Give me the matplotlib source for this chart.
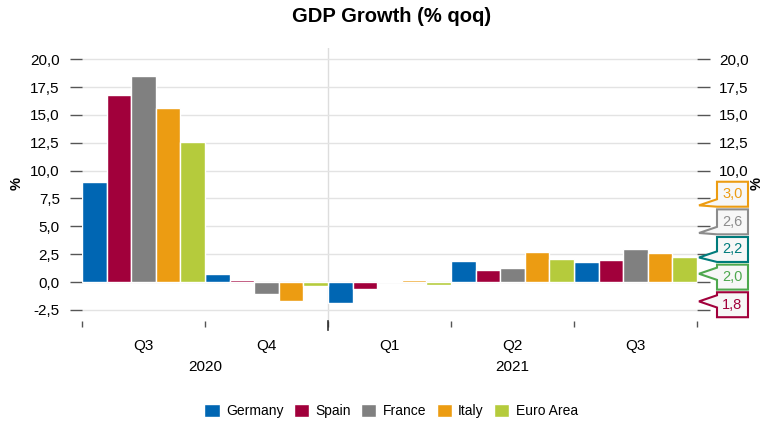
import numpy as np
import matplotlib
matplotlib.use("Agg")
import matplotlib.pyplot as plt
from matplotlib.patches import Polygon
from matplotlib.transforms import blended_transform_factory

plt.rcParams['font.family'] = ['Liberation Sans', 'DejaVu Sans']

# quarterly GDP growth, % qoq
quarters = ["Q3", "Q4", "Q1", "Q2", "Q3"]
years = ["2020", "2021"]
year_span = [(0, 1), (2, 4)]
countries = ["Germany", "Spain", "France", "Italy", "Euro Area"]
germany = [9.0, 0.7, -1.9, 1.9, 1.8]
spain = [16.8, 0.2, -0.6, 1.1, 2.0]
france = [18.5, -1.1, 0.1, 1.3, 3.0]
italy = [15.6, -1.7, 0.2, 2.7, 2.6]
euro_area = [12.6, -0.4, -0.3, 2.1, 2.2]
colors = ["#0066b3", "#a1003b", "#808080", "#ec9c12", "#b5cb3c"]

# latest-value flags on the right axis
flag_values = [3.0, 2.6, 2.2, 2.0, 1.8]
flag_colors = ["#ec9c12", "#8c8c8c", "#007b7b", "#4ea84e", "#a1003b"]

series = [germany, spain, france, italy, euro_area]

fig = plt.figure(figsize=(7.64, 4.22), dpi=100)
ax = fig.add_axes([82 / 764, 1 - 321 / 422, 615 / 764, (321 - 47.5) / 422])

x = np.arange(len(quarters))
w = 0.2
for j, (vals, c, name) in enumerate(zip(series, colors, countries)):
    ax.bar(x + (j - 2) * w, vals, width=w, color=c, edgecolor="white",
           linewidth=1, label=name, zorder=3)

ax.set_xlim(-0.5, len(quarters) - 0.5)
ax.set_ylim(-3.5, 21.05)
yt = np.arange(-2.5, 20.01, 2.5)
ax.set_yticks(yt)
ax.set_yticklabels([f"{v:.1f}".replace(".", ",") for v in yt])
ax.grid(axis="y", color="#e3e3e3", linewidth=1, zorder=0)
ax.tick_params(axis="y", which="both", length=9, width=1, color="#555555",
               labelsize=11, pad=7, left=True, right=True,
               labelleft=True, labelright=True)

for s in ax.spines.values():
    s.set_visible(False)

# category labels, boundary ticks
ax.set_xticks(x)
ax.set_xticklabels(quarters, fontsize=11)
ax.tick_params(axis="x", which="major", length=0, pad=13)
ax.set_xticks(np.arange(-0.5, len(quarters)), minor=True)
ax.tick_params(axis="x", which="minor", length=4, width=1, color="#555555",
               pad=0, direction="out")

trans_x = blended_transform_factory(ax.transData, ax.transAxes)
for yr, (a, b) in zip(years, year_span):
    ax.text((a + b) / 2, -0.168, yr, transform=trans_x, ha="center",
            va="center", fontsize=11)

# year separator
ax.axvline(1.5, color="#dddddd", linewidth=1, zorder=1)
ax.plot([1.5, 1.5], [0, -0.033], transform=trans_x, color="#333333",
        linewidth=1.2, clip_on=False)

# callout flags for the latest quarter
trans_r = blended_transform_factory(ax.transAxes, ax.transData)
step = 2.48
half = 1.12
order = np.argsort(flag_values)[::-1]
mid = np.mean(flag_values) + 0.6
xt, xl, xr = 1 + 2 / 615, 1 + 20 / 615, 1 + 51 / 615
flag_top = mid + step * 2 + half
for rank, k in enumerate(order):
    v = flag_values[k]
    c = mid + step * (2 - rank)
    top, bot = c + half, c - half
    ty = min(max(v, c - 1.0), c + 0.3)
    wt = min(ty + 0.55, top)
    wb = max(ty - 0.55, bot)
    pts = [(xl, top), (xr, top), (xr, bot), (xl, bot), (xl, wb), (xt, ty),
           (xl, wt)]
    ax.add_patch(Polygon(pts, closed=True, transform=trans_r,
                         facecolor="#f7f7f7", edgecolor=flag_colors[k],
                         linewidth=1.5, clip_on=False, zorder=5))
    ax.text((xl + xr) / 2, c, f"{v:.1f}".replace(".", ","), transform=trans_r,
            ha="center", va="center", fontsize=10.5, color=flag_colors[k],
            zorder=6)

# right-hand labels that sit under the flags are hidden
fig.canvas.draw()
for tick, v in zip(ax.yaxis.get_major_ticks(), yt):
    if v < flag_top:
        tick.label2.set_visible(False)

fig.text(17 / 764, 1 - 183 / 422, "%", rotation=90, ha="center", va="center",
         fontsize=10.5, fontweight="bold")
fig.text(757 / 764, 1 - 183 / 422, "%", rotation=90, ha="center",
         va="center", fontsize=10.5, fontweight="bold")

fig.text(392 / 764, 1 - 17 / 422, "GDP Growth (% qoq)", ha="center",
         va="center", fontsize=14.5, fontweight="bold")

fig.legend(loc="center", bbox_to_anchor=(391 / 764, 1 - 411 / 422), ncol=5,
           frameon=False, fontsize=10, handlelength=1.1, handleheight=1.1,
           handletextpad=0.45, columnspacing=0.75, borderpad=0)

fig.savefig("out.png", dpi=100)
